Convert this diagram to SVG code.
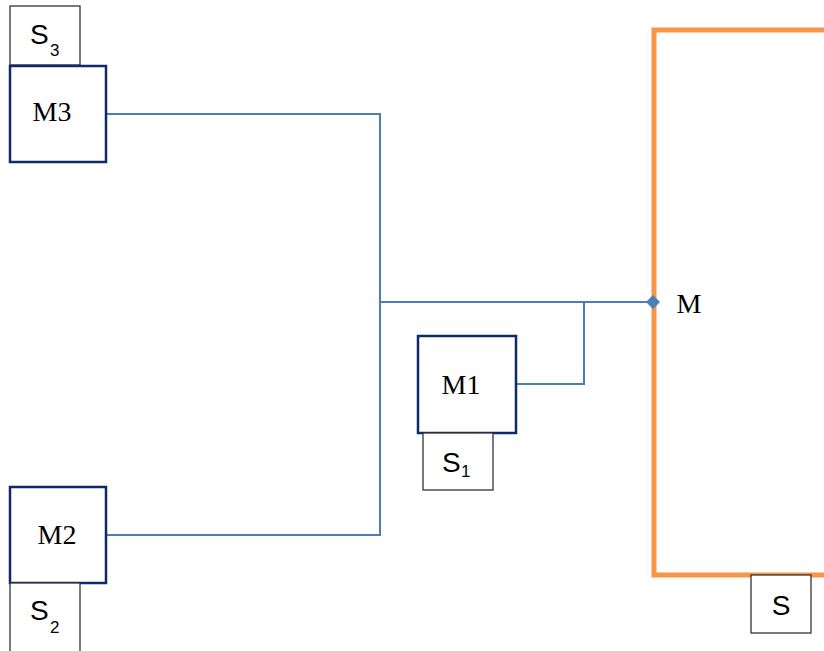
<svg xmlns="http://www.w3.org/2000/svg" width="824" height="651" viewBox="0 0 824 651">
<style>
.m{fill:#fff;stroke:#0f2a6b;stroke-width:2.5}
.s{fill:#fff;stroke:#333;stroke-width:1.3}
.ml{font-family:"Liberation Serif",serif;font-size:28px;fill:#000;text-anchor:middle}
.sl{font-family:"Liberation Sans",sans-serif;font-size:28px;fill:#000}
.sub{font-size:17px}
.c{fill:none;stroke:#4a7ebb;stroke-width:2}
</style>
<rect width="824" height="651" fill="#fff"/>
<g id="frame"><path d="M830 30 H654 V575 H830" fill="none" stroke="#f79646" stroke-width="5"/></g>
<g id="connectors">
<path class="c" d="M106 114 H380 V535 H106"/>
<path class="c" d="M380 302 H652"/>
<path class="c" d="M516 384 H584 V302"/>
<path d="M653 295 L660 302 L653 309 L646 302 Z" fill="#4a7ebb"/>
</g>
<g id="S3"><rect class="s" x="10" y="6" width="70" height="59"/><text class="sl" x="30" y="44">S<tspan class="sub" x="50" y="56">3</tspan></text></g>
<g id="M3"><rect class="m" x="10" y="66" width="96" height="96"/><text class="ml" x="52" y="121">M3</text></g>
<g id="M2"><rect class="m" x="10" y="487" width="96" height="96"/><text class="ml" x="57" y="544">M2</text></g>
<g id="S2"><rect class="s" x="10" y="583" width="70" height="75"/><text class="sl" x="30" y="620">S<tspan class="sub" x="50" y="633">2</tspan></text></g>
<g id="M1"><rect class="m" x="418" y="336" width="98" height="97"/><text class="ml" x="461" y="394">M1</text></g>
<g id="S1"><rect class="s" x="423" y="433" width="70" height="57"/><text class="sl" x="442" y="472">S<tspan class="sub" x="461" y="477">1</tspan></text></g>
<g id="M"><text class="ml" x="689" y="313">M</text></g>
<g id="S"><rect class="s" x="751" y="575" width="60" height="58"/><text class="sl" x="781" y="615" text-anchor="middle">S</text></g>
</svg>
